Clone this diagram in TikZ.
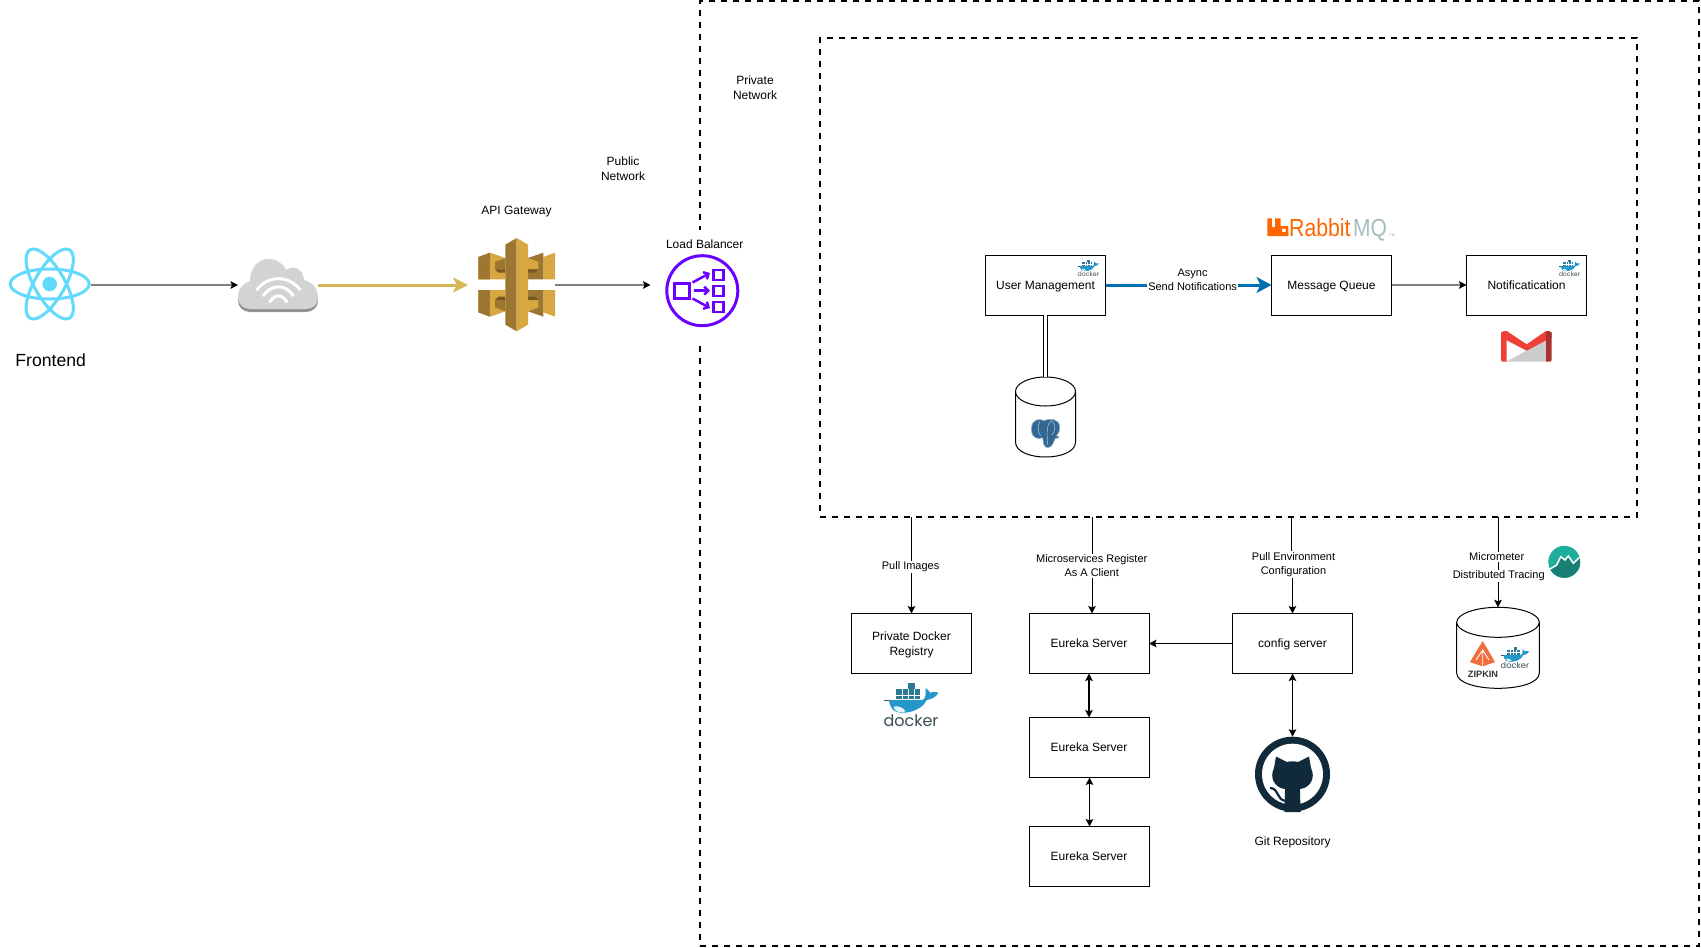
\documentclass[tikz,border=0pt]{standalone}
\usepackage{fontspec}
\setmainfont{Liberation Sans}
\newfontfamily\dockerfont{Poppins}
\usetikzlibrary{arrows.meta,calc}
\newcommand{\fsz}[2]{\fontsize{#1bp}{#2bp}\selectfont}
\definecolor{reactc}{HTML}{61DAFB}
\definecolor{goldline}{HTML}{D6B656}
\definecolor{blueline}{HTML}{006EAF}
\definecolor{gwlight}{HTML}{D9A741}
\definecolor{gwdark}{HTML}{9D7631}
\definecolor{lbc}{HTML}{6A00FF}
\definecolor{ghc}{HTML}{10293B}
\definecolor{dockb}{HTML}{2496C8}
\definecolor{dockd}{HTML}{2C7A96}
\definecolor{dockt}{HTML}{394D54}
\definecolor{cloudc}{HTML}{D2D3D3}
\definecolor{cloudd}{HTML}{929292}
\definecolor{pgc}{HTML}{336791}
\definecolor{rabbito}{HTML}{FF6600}
\definecolor{rabbitg}{HTML}{A7BCBC}
\definecolor{gmailr}{HTML}{EE4037}
\definecolor{gmaild}{HTML}{A8322D}
\definecolor{zipo}{HTML}{F26B3A}
\definecolor{micl}{HTML}{1FAE9C}
\definecolor{micd}{HTML}{177F74}
\tikzset{
  x=1bp,y=-1bp,
  box/.style={draw=black,line width=1bp,fill=white,minimum width=120bp,minimum height=60bp,inner sep=0pt,outer sep=0pt,align=center,font=\fsz{12}{15},text height=10bp,text depth=1.4bp},
  emptybox/.style={draw=black,line width=1bp,fill=white,minimum width=120bp,minimum height=60bp,inner sep=0pt,outer sep=0pt},
  dashrect/.style={draw=black,line width=2bp,dash pattern=on 6bp off 6bp,inner sep=0pt,outer sep=0pt,anchor=north west},
  anchorbox/.style={inner sep=0pt,outer sep=0pt},
  conn/.style={line width=1bp,draw=black,-{Stealth[length=7.5bp,width=7.5bp,inset=1.5bp]}},
  gconn/.style={line width=2bp,draw=black!50,-{Stealth[length=7.5bp,width=7.5bp,inset=1.5bp,color=black]}},
  bconn/.style={line width=1bp,draw=black,{Stealth[length=7.5bp,width=7.5bp,inset=1.5bp]}-{Stealth[length=7.5bp,width=7.5bp,inset=1.5bp]}},
  lbl/.style={fill=white,inner sep=1pt,align=center,font=\fsz{11}{14}},
  txt/.style={inner sep=0pt,align=center,font=\fsz{12}{15}},
  dockerlogo/.pic={
    \begin{scope}[scale=1/3]
      \fill[dockd] (62,40) rectangle (135,70);
      \fill[dockd] (100,22) rectangle (120,40);
      \draw[white,line width=.35bp] (62,56)--(135,56) (80,40)--(80,70) (100,40)--(100,70) (118,40)--(118,70);
      \draw[dockt,line width=.6bp] (28,72)--(44,72);
      \fill[dockb] (42,72) -- (140,72) .. controls (150,72) and (153,60) .. (152,36)
        .. controls (160,42) and (163,46) .. (165,50) .. controls (173,47) and (183,46) .. (190,50)
        .. controls (185,62) and (170,70) .. (155,72) .. controls (140,108) and (75,120) .. (55,102)
        .. controls (47,94) and (42,82) .. (42,72) -- cycle;
      \fill[white!88!dockb] (55,92) .. controls (70,88) and (85,95) .. (92,106) .. controls (75,112) and (60,108) .. (55,92) -- cycle;
    \end{scope}
    \node[inner sep=0pt,text=dockt,transform shape,font=\dockerfont\fsz{16}{16}] at (36,44.5) {docker};
  }
}
\begin{document}
\begin{tikzpicture}
\useasboundingbox (0,0) rectangle (1701,947);
\fill[white] (0,0) rectangle (1701,947);

% dashed frames
\node[dashrect,minimum width=999bp,minimum height=945bp] (outer) at (700,1) {};
\fill[white] (690,230) rectangle (712,343);
\node[dashrect,minimum width=817bp,minimum height=479bp] (inner) at (820,38) {};

% icon anchors
\node[anchorbox,minimum width=81bp,minimum height=80bp] (react) at (50,285) {};
\node[anchorbox,minimum width=80bp,minimum height=53bp] (cloud) at (278,285) {};
\node[anchorbox,minimum width=77bp,minimum height=93bp] (gateway) at (516.7,285) {};
\node[anchorbox,minimum width=73bp,minimum height=72bp] (lb) at (702.3,290.7) {};
\node[anchorbox,minimum width=60bp,minimum height=80bp] (pgdb) at (1045.5,417) {};
\node[anchorbox,minimum width=82.6bp,minimum height=81bp] (zipdb) at (1498,647.8) {};
\node[anchorbox,minimum width=75bp,minimum height=75bp] (github) at (1292.5,774.2) {};
\coordinate (gwin) at (468,285);
\coordinate (lbin) at (650.5,285);

% React
\begin{scope}[shift={(49.7,284)}]
  \foreach \a in {0,60,120}{\draw[reactc,line width=3bp,rotate=\a] (0,0) ellipse [x radius=39.5,y radius=15];}
  \fill[reactc] (0,0) circle [radius=7.3];
\end{scope}

% Cloud
\foreach \d/\c in {3/cloudd,0/cloudc}{
  \begin{scope}[shift={(0,\d)}]
    \fill[\c] (238,297) .. controls (238,288) and (244,283) .. (250,281) .. controls (250,266) and (260,259) .. (268,259)
      .. controls (276,259) and (283,263) .. (286,270) .. controls (293,265) and (303,268) .. (304,280)
      .. controls (312,282) and (318,288) .. (318,298) .. controls (318,304) and (313,309) .. (306,309)
      -- (250,309) .. controls (243,309) and (238,304) .. (238,297) -- cycle;
  \end{scope}}
\draw[white,line width=3bp,line cap=round] (257,289.5) .. controls (269,275) and (288,275) .. (300,289.5);
\draw[white,line width=3bp,line cap=round] (263.5,295.5) .. controls (271,284) and (286,284) .. (293,295.5);
\draw[white,line width=3bp,line cap=round] (270,301.7) .. controls (275,294) and (282,294) .. (286.7,301.7);

% API gateway
\begin{scope}[shift={(470,232)},scale=1/3]
  \foreach \xo in {0,195}{
   \foreach \ys/\yo in {1/0,-1/316}{
    \begin{scope}[shift={(\xo,\yo)},yscale=\ys]
      \fill[gwlight] (25,75) -- (60,62) -- (60,142) -- (25,142) -- cycle;
    \end{scope}}}
  \foreach \ys/\yo in {1/0,-1/316}{
    \begin{scope}[shift={(0,\yo)},yscale=\ys]
      \fill[gwdark] (25,75) -- (60,62) -- (60,142) -- (25,142) -- cycle;
      \fill[gwlight] (60,62) -- (106,78) -- (106,142) -- (60,142) -- cycle;
      \fill[gwdark] (75,90) -- (106,78) -- (106,112) -- (75,112) -- cycle;
      \fill[gwdark!75!black] (75,112) -- (106,112) -- (106,122) -- (85,122) -- cycle;
      \fill[gwdark] (174,78) -- (220,62) -- (220,142) -- (174,142) -- cycle;
      \fill[gwlight] (174,78) -- (205,90) -- (205,112) -- (174,112) -- cycle;
      \fill[gwdark!75!black] (174,112) -- (205,112) -- (195,122) -- (174,122) -- cycle;
    \end{scope}}
  \fill[gwdark] (140,18) -- (106,38) -- (106,278) -- (140,298) -- cycle;
  \fill[gwlight] (140,18) -- (174,38) -- (174,278) -- (140,298) -- cycle;
\end{scope}

% Load balancer icon
\fill[white] (lb.center) circle [radius=36];
\draw[lbc,line width=3bp] (lb.center) ellipse [x radius=35.5,y radius=35];
\draw[lbc,line width=3bp] (674.5,283) rectangle (689.5,298);
\foreach \yy in {270,286,302}{\draw[lbc,line width=2.8bp] (713.5,\yy) rectangle (723.5,\yy+10);}
\draw[lbc,line width=2.5bp,-{Straight Barb[length=4bp,width=8bp]}] (692.5,282.5) -- (710,273);
\draw[lbc,line width=2.5bp,-{Straight Barb[length=4bp,width=8bp]}] (693.5,290.7) -- (710,290.7);
\draw[lbc,line width=2.5bp,-{Straight Barb[length=4bp,width=8bp]}] (692.5,298.5) -- (710,308);

% Boxes
\node[box] (um) at (1045.5,285) {User Management};
\node[box] (mq) at (1331.5,285) {Message Queue};
\node[box] (notif) at (1526.5,285) {Notificatication};
\node[emptybox] (reg) at (911.5,643.5) {};
\node[box] (eu1) at (1089,643.5) {Eureka Server};
\node[box] (eu2) at (1089,747.5) {Eureka Server};
\node[box] (eu3) at (1089,856.5) {Eureka Server};
\node[box] (cfg) at (1292.5,643.5) {config server};
\coordinate (eu1in) at (1092,613.5);
\coordinate (cfgout) at (1291.5,517);
\coordinate (micro) at (1498,517);

% Postgres cylinder
\draw[line width=1bp,fill=white] (1015.5,392) -- (1015.5,442) .. controls (1015.5,462) and (1075.5,462) .. (1075.5,442) -- (1075.5,392);
\draw[line width=1bp,fill=white] (1045.5,391.5) ellipse [x radius=30,y radius=14.5];
\begin{scope}[shift={(1010,370)},scale=1/3]
  \filldraw[fill=pgc,draw=pgc!55!white,line width=.7bp] (65,170) .. controls (68,148) and (88,145) .. (102,152)
    .. controls (118,144) and (148,146) .. (149,170) .. controls (150,185) and (144,192) .. (139,197)
    .. controls (150,200) and (150,204) .. (136,205) .. controls (130,215) and (128,232) .. (113,233)
    .. controls (100,233) and (100,215) .. (98,203) .. controls (82,212) and (60,200) .. (65,170) -- cycle;
  \draw[pgc!45!white,line width=.6bp] (90,153) .. controls (80,170) and (85,190) .. (92,198) (125,152) .. controls (110,160) and (110,185) .. (113,225) (125,152) .. controls (140,165) and (135,185) .. (125,195);
\end{scope}

% Zipkin cylinder
\draw[line width=1bp,fill=white] (1456.7,622.5) -- (1456.7,673) .. controls (1456.7,693.4) and (1539.3,693.4) .. (1539.3,673) -- (1539.3,622.5);
\draw[line width=1bp,fill=white] (1498,622.3) ellipse [x radius=41.3,y radius=15];
\fill[zipo] (1482.7,641) -- (1495,662) -- (1484,666) -- (1481.5,666) -- (1470,662) -- cycle;
\draw[white,line width=.9bp] (1482.7,649) -- (1482.7,666) (1476,660) -- (1482.7,650) -- (1489,660);
\node[inner sep=0pt,text=black!80,font=\bfseries\fsz{9.2}{10}] (ziptext) at (1483,674.5) {ZIPKIN};
\pic[scale=.52] at (1496.2,642.7) {dockerlogo};

% Connectors
\draw[gconn] (react.east) -- (cloud.west);
\draw[line width=3bp,draw=goldline,-{Stealth[length=15bp,width=15bp,inset=4bp]}] (cloud.east) -- (gwin);
\draw[gconn] (gateway.east) -- (lbin);
\draw[line width=3bp,draw=blueline,-{Stealth[length=15bp,width=16bp,inset=4bp]}] (um.east) -- (mq.west);
\draw[gconn] (mq.east) -- (notif.west);
\draw[line width=1bp,double,double distance=3.2bp] (um.south) -- (pgdb.north);
\draw[conn] (reg.north |- inner.south) -- (reg.north);
\draw[conn] (eu1in |- inner.south) -- (eu1in);
\draw[conn] (cfgout) -- ++(0,48) -| (cfg.north);
\draw[conn] (micro) -- (zipdb.north);
\draw[conn] (cfg.west) -- (eu1.east);
\draw[bconn,line width=1.6bp] (eu1.south) -- (eu2.north);
\draw[bconn] ($(eu2.south)+(.5,0)$) -- ($(eu3.north)+(.5,0)$);
\draw[bconn] (cfg.south) -- (github.north);

% GitHub
\fill[ghc] (github.center) circle [radius=37.5];
\fill[white] (github.center) circle [radius=30.5];
\fill[ghc] (1276,756.5) -- (1287,762) .. controls (1291,761) and (1294,761) .. (1298,762) -- (1309,756.5) -- (1311,768)
  .. controls (1316,778) and (1310,788) .. (1300,789) -- (1300.5,812) -- (1284.5,812) -- (1285,789) .. controls (1275,788) and (1269,778) .. (1274,768) -- cycle;
\draw[ghc,line width=2.2bp] (1270,788) .. controls (1279,788) and (1276,800) .. (1286,801);

% Docker logos
\pic at (875,676) {dockerlogo};
\pic[scale=.39] at (1074.4,256.8) {dockerlogo};
\pic[scale=.39] at (1555.4,256.8) {dockerlogo};

% RabbitMQ
\fill[rabbito,even odd rule] (1267.3,218.3) -- (1271.8,218.3) -- (1271.8,227) -- (1275,227) -- (1275,218.3) -- (1280.5,218.3) -- (1280.5,226) -- (1288.3,226) -- (1288.3,236) -- (1267.3,236) -- cycle
  (1282,228.5) rectangle (1285.5,232);
\node[inner sep=0pt,anchor=base west,xscale=.86,transform shape,text=rabbito,font=\fsz{24.7}{25}] (rabbit) at (1289,236) {Rabbit};
\node[inner sep=0pt,anchor=base west,xscale=.85,transform shape,text=rabbitg,font=\fsz{24.7}{25}] (mqtxt) at (1353,236) {MQ};
\node[inner sep=0pt,anchor=base west,text=black!35,font=\fsz{3.5}{4}] (tm) at (1389.5,236) {TM};

% Gmail
\begin{scope}[shift={(1460,250)},scale=1/3]
  \fill[black!2] (140,335) -- (258,335) -- (258,262) -- (140,262) -- cycle;
  \fill[black!20] (200,302) -- (258,268) -- (258,335) -- (140,335) -- (200,302);
  \fill[white] (140,335) -- (200,302) -- (140,268) -- cycle;
  \draw[black!20,line width=.4bp] (140,335) -- (200,302);
  \fill[gmailr] (123,248) -- (132,243) -- (140,243) -- (200,283) -- (258,243) -- (266,243) -- (275,248) -- (275,262) -- (200,302) -- (123,262) -- cycle;
  \fill[gmailr] (123,248) -- (140,248) -- (140,335) -- (127,335) -- (123,330) -- cycle;
  \fill[gmaild] (258,248) -- (266,243) -- (275,248) -- (275,330) -- (271,335) -- (258,335) -- cycle;
\end{scope}

% Micrometer
\begin{scope}
  \clip (1564.3,561.8) circle [radius=16];
  \fill[micl] (1548,545) rectangle (1581,578);
  \fill[micd] (1548,570) -- (1550,569) -- (1556.7,565) -- (1560.7,556.7) -- (1565,560) -- (1568.3,556) -- (1573.3,563.3) -- (1581,556) -- (1581,578) -- (1548,578) -- cycle;
  \draw[white,line width=1.5bp] (1548,570) -- (1550,569) -- (1556.7,565) -- (1560.7,556.7) -- (1565,560) -- (1568.3,556) -- (1573.3,563.3) -- (1581,556);
\end{scope}

% Labels
\node[lbl] (lasync) at (1192.6,280) {Async\\Send Notifications};
\node[lbl] (lpull) at (910.6,567) {Pull Images};
\node[lbl] (lms) at (1091.7,566) {Microservices Register\\As A Client};
\node[lbl] (lenv) at (1293.5,564.5) {Pull Environment\\Configuration};
\node[lbl] (lmic) at (1496.7,557) {Micrometer};
\node[lbl] (ldist) at (1498.7,576) {Distributed Tracing};
\node[txt] (lfront) at (50.7,360) {\fsz{17.6}{20}Frontend};
\node[txt] (lapi) at (516.5,211.7) {API Gateway};
\node[txt] (llb) at (704.7,243.8) {Load Balancer};
\node[txt] (lpub) at (623,169) {Public\\Network};
\node[txt] (lpriv) at (755,88) {Private\\Network};
\node[txt] (lreg) at (911.5,644.5) {Private Docker\\Registry};
\node[txt] (lgit) at (1292.5,842) {Git Repository};
\end{tikzpicture}
\end{document}
